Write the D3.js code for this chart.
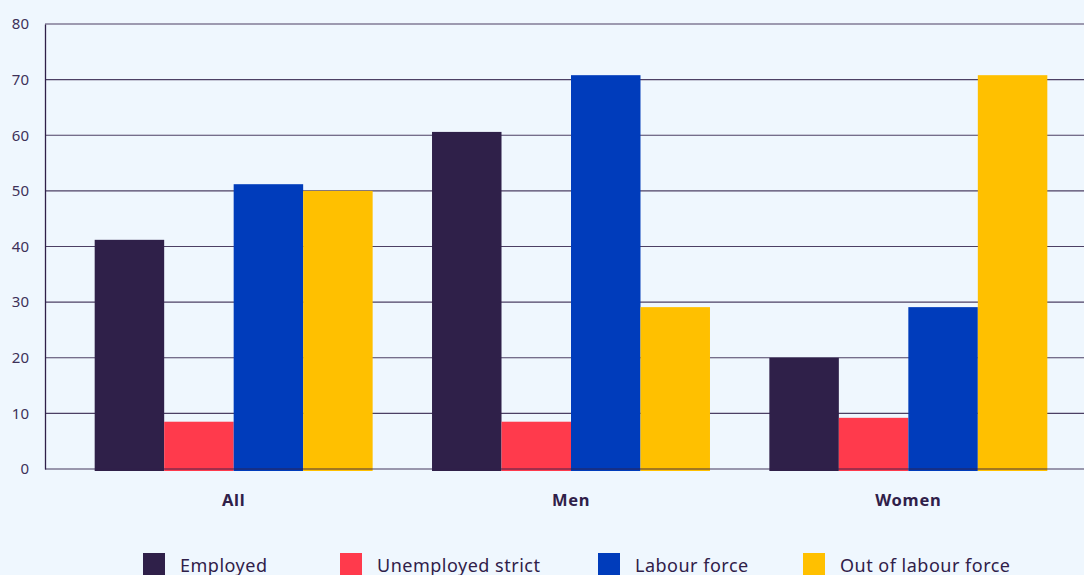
<!DOCTYPE html>
<html><head><meta charset="utf-8">
<script src="https://cdn.jsdelivr.net/npm/d3@7"></script>
<style>
html,body{margin:0;padding:0;background:#eff7fe;}
svg{display:block;}
svg text{font-family:"Noto Sans","Open Sans",sans-serif;}
</style></head>
<body>
<svg id="c" width="1084" height="575"></svg>
<script>
const categories = ["All", "Men", "Women"];
const seriesNames = ["Employed", "Unemployed strict", "Labour force", "Out of labour force"];
const employed = [41.2, 60.6, 20.0];
const unemployedStrict = [8.5, 8.5, 9.2];
const labourForce = [51.2, 70.8, 29.1];
const outOfLabourForce = [50.0, 29.1, 70.8];
const yTicks = [0, 10, 20, 30, 40, 50, 60, 70, 80];
const colors = ["#2f2049", "#ff3a4c", "#003cbb", "#ffc000"];

const seriesValues = [employed, unemployedStrict, labourForce, outOfLabourForce];
const svg = d3.select("#c");
const ink = "#2f2049";
const font = '"Noto Sans","Open Sans",sans-serif';

const y = d3.scaleLinear().domain([0, 80]).range([469, 24]);
const x0 = d3.scaleBand().domain(categories).range([65, 1077]).paddingInner(0.176).paddingOuter(0.088);
const x1 = d3.scaleBand().domain(seriesNames).range([0, x0.bandwidth()]);

// grid
const yAxis = d3.axisLeft(y).tickValues(yTicks).tickSize(0).tickPadding(16);
const gy = svg.append("g").attr("transform", "translate(45,0)").call(yAxis);
gy.attr("font-family", font);
gy.select(".domain").attr("stroke", ink).attr("stroke-width", 1.3);
gy.selectAll(".tick text").attr("fill", "#3d3158").attr("font-size", 15);
svg.append("g").selectAll("line").data(yTicks.filter(d => d > 0)).join("line")
  .attr("x1", 45).attr("x2", 1084).attr("y1", d => y(d)).attr("y2", d => y(d))
  .attr("stroke", ink).attr("stroke-opacity", 0.85).attr("stroke-width", 1.2);

// bars
const g = svg.append("g");
categories.forEach((cat, ci) => {
  seriesNames.forEach((s, si) => {
    const v = seriesValues[si][ci];
    g.append("rect")
      .attr("x", x0(cat) + x1(s))
      .attr("width", x1.bandwidth())
      .attr("y", y(v))
      .attr("height", y(0) - y(v) + 2)
      .attr("fill", colors[si]);
  });
});

// baseline on top
svg.append("line").attr("x1", 45).attr("x2", 1084).attr("y1", y(0)).attr("y2", y(0))
  .attr("stroke", ink).attr("stroke-opacity", 0.6).attr("stroke-width", 1.5);

// category labels
const xAxis = d3.axisBottom(x0).tickSize(0).tickPadding(25);
const gx = svg.append("g").attr("transform", `translate(0,${y(0)})`).call(xAxis);
gx.attr("font-family", font);
gx.select(".domain").remove();
gx.selectAll(".tick text").attr("fill", ink).attr("font-size", 16.5).attr("font-weight", "bold").attr("letter-spacing", 0.7);

// legend
const legX = [143, 340, 598, 803];
const leg = svg.append("g");
seriesNames.forEach((s, i) => {
  leg.append("rect").attr("x", legX[i]).attr("y", 553).attr("width", 22).attr("height", 22).attr("fill", colors[i]);
  leg.append("text").attr("x", legX[i] + 37).attr("y", 572).attr("font-size", 18)
    .attr("fill", ink).attr("letter-spacing", 0.5).text(s);
});
</script>
</body></html>
